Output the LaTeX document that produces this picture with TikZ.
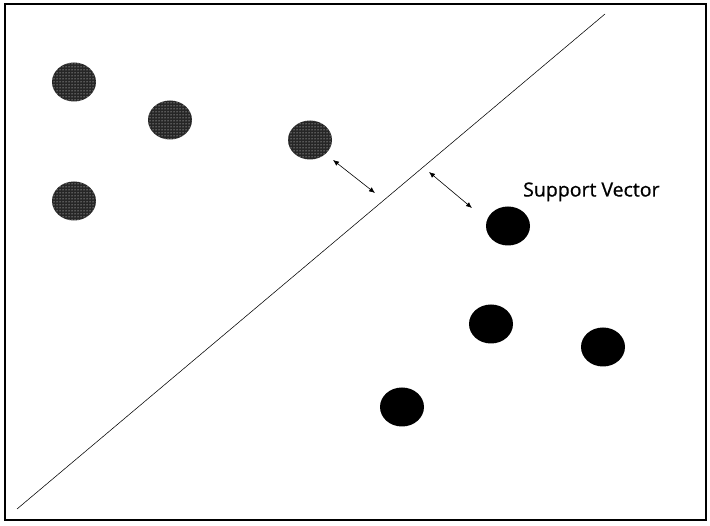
\documentclass[tikz,border=0pt]{standalone}
\usepackage{fontspec}
\setmainfont{Open Sans}
\newfontfamily\svfont[FakeBold=0.8]{Open Sans}
\usetikzlibrary{patterns,arrows.meta}
\begin{document}
\begin{tikzpicture}[x=1pt,y=-1pt,
  dbl/.style={{Latex[length=6pt,width=5pt]}-{Latex[length=6pt,width=5pt]},line width=0.6pt}]
\useasboundingbox (0,0) rectangle (710,526);
\node[draw,line width=1.3pt,minimum width=701pt,minimum height=516pt,inner sep=0pt] (frame) at (355.5,262) {};
\coordinate (l1) at (17,509);
\coordinate (l2) at (605,14);
\draw[line width=0.55pt] (l1) -- (l2);
\foreach \n/\x/\y in {g1/74/82, g2/170/120, g3/310/140, g4/74/201}{
  \fill[black!85] (\x,\y) ellipse [x radius=22, y radius=19.5];
  \fill[pattern=dots, pattern color=white] (\x,\y) ellipse [x radius=22, y radius=19.5];
  \coordinate (\n) at (\x,\y);
}
\foreach \n/\x/\y in {b1/508/226, b2/491/324, b3/603/347, b4/402/407}{
  \fill[black] (\x,\y) ellipse [x radius=22, y radius=19.5];
  \coordinate (\n) at (\x,\y);
}
\coordinate (a1) at (333,160);
\coordinate (a2) at (375,193);
\coordinate (a3) at (429,172);
\coordinate (a4) at (472,208);
\draw[dbl] (a1) -- (a2);
\draw[dbl] (a3) -- (a4);
\node[anchor=base west,inner sep=0pt,font=\svfont\fontsize{19.5}{22}\selectfont] (sv) at (523,196.5) {Support Vector};
\end{tikzpicture}
\end{document}
